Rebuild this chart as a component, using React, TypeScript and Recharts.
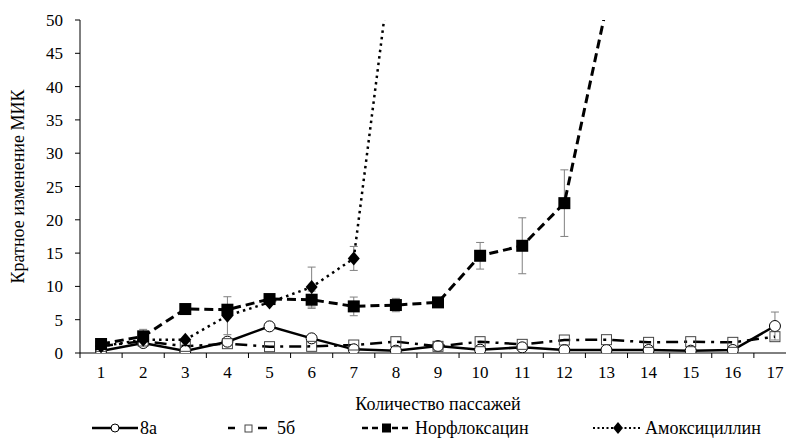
import React from 'react';
import { LineChart, Line, XAxis, YAxis, ErrorBar, Legend } from 'recharts';

// passage numbers on the x axis
const passages = [1, 2, 3, 4, 5, 6, 7, 8, 9, 10, 11, 12, 13, 14, 15, 16, 17];

// fold change of MIC per compound
const values8a = [0.3, 1.5, 0.3, 1.7, 4.0, 2.2, 0.55, 0.35, 1.05, 0.5, 0.85, 0.45, 0.45, 0.45, 0.35, 0.45, 4.05];
const values5b = [1.0, 1.8, 1.0, 1.4, 0.95, 1.0, 1.2, 1.7, 1.0, 1.7, 1.3, 1.95, 2.0, 1.6, 1.7, 1.6, 2.45];
const valuesNorf = [1.35, 2.5, 6.6, 6.5, 8.1, 8.0, 7.0, 7.2, 7.6, 14.6, 16.1, 22.5, 52, null, null, null, null];
const valuesAmox = [1.0, 2.0, 2.0, 5.6, 7.6, 9.9, 14.2, 64, null, null, null, null, null, null, null, null, null];

// standard deviations (only where bars are drawn)
const err8a = [null, null, null, null, null, null, null, null, null, null, null, null, null, null, null, null, 2.1];
const errNorf = [null, 1.05, null, null, null, 1.3, 1.4, 1.0, null, 2.0, 4.2, 5.0, null, null, null, null, null];
const errAmox = [null, null, null, 2.85, null, 3.0, 1.8, null, null, null, null, null, null, null, null, null, null];

const yTicks = [0, 5, 10, 15, 20, 25, 30, 35, 40, 45, 50];
const seriesNames = ['8а', '5б', 'Норфлоксацин', 'Амоксициллин'];

const FONT = 'Liberation Serif';
const CHART_W = 791;
const CHART_H = 435;
const Y_AXIS_W = 72;
const MARGIN = { top: 12, right: 3, bottom: 3, left: 0 };
const PLOT_W = CHART_W - MARGIN.left - MARGIN.right - Y_AXIS_W;
const HALF_BAND = PLOT_W / passages.length / 2;
const Y_MAX = 50;

const data = passages.map((p, i) => ({
  passage: p,
  a8: values8a[i],
  b5: values5b[i],
  norf: valuesNorf[i],
  amox: valuesAmox[i],
  e8a: err8a[i],
  eNorf: errNorf[i],
  eAmox: errAmox[i],
}));

const hidden = (p: any) => p.cx == null || p.cy == null || p.value == null || p.value > Y_MAX;

const CircleDot = (p: any) =>
  hidden(p) ? <g key={`c${p.index}`} /> : (
    <circle key={`c${p.index}`} cx={p.cx} cy={p.cy} r={5.5} fill="#fff" stroke="#000" strokeWidth={1} />
  );

const OpenSquareDot = (p: any) =>
  hidden(p) ? <g key={`s${p.index}`} /> : (
    <rect key={`s${p.index}`} x={p.cx - 5} y={p.cy - 5} width={10} height={10} fill="none" stroke="#444" strokeWidth={1} />
  );

const SquareDot = (p: any) =>
  hidden(p) ? <g key={`q${p.index}`} /> : (
    <rect key={`q${p.index}`} x={p.cx - 6} y={p.cy - 6} width={12} height={12} fill="#000" />
  );

const DiamondDot = (p: any) =>
  hidden(p) ? <g key={`m${p.index}`} /> : (
    <path key={`m${p.index}`} d={`M${p.cx},${p.cy - 7} L${p.cx + 6},${p.cy} L${p.cx},${p.cy + 7} L${p.cx - 6},${p.cy} Z`} fill="#000" />
  );

const PassageTick = (props: any) => {
  const { x, y, payload, index } = props;
  return (
    <g>
      <line x1={x - HALF_BAND} y1={y} x2={x - HALF_BAND} y2={y + 5} stroke="#000" />
      {index === passages.length - 1 && (
        <line x1={x + HALF_BAND} y1={y} x2={x + HALF_BAND} y2={y + 5} stroke="#000" />
      )}
      <text x={x} y={y + 25} textAnchor="middle" fontSize={17} fill="#000" fontFamily={FONT}>
        {payload.value}
      </text>
    </g>
  );
};

const legendIcons = [
  <svg width={46} height={24} key="i0">
    <line x1={0} y1={12} x2={46} y2={12} stroke="#000" strokeWidth={2.5} />
    <circle cx={23} cy={12} r={4} fill="#fff" stroke="#000" strokeWidth={1} />
  </svg>,
  <svg width={40} height={24} key="i1">
    <line x1={0} y1={12} x2={7} y2={12} stroke="#000" strokeWidth={2.5} />
    <rect x={17} y={9} width={7} height={7} fill="none" stroke="#444" strokeWidth={1} />
    <line x1={30} y1={12} x2={39} y2={12} stroke="#000" strokeWidth={2.5} />
  </svg>,
  <svg width={50} height={24} key="i2">
    <line x1={0} y1={12} x2={50} y2={12} stroke="#000" strokeWidth={2.5} strokeDasharray="6 4" />
    <rect x={20} y={7.5} width={9} height={9} fill="#000" />
  </svg>,
  <svg width={49} height={24} key="i3">
    <line x1={0} y1={12} x2={49} y2={12} stroke="#000" strokeWidth={2} strokeDasharray="2 2.5" />
    <path d="M25,6 L30,12 L25,18 L20,12 Z" fill="#000" />
  </svg>,
];
const legendLefts = [84, 220, 354, 585];
const legendGaps = [2, 9, 3, 3];

const renderLegend = () => (
  <div style={{ position: 'relative', height: 24, fontFamily: FONT, fontSize: 18, color: '#000' }}>
    {seriesNames.map((name, i) => (
      <div key={name} style={{ position: 'absolute', left: legendLefts[i], top: 0, height: 24, display: 'flex', alignItems: 'center' }}>
        {legendIcons[i]}
        <span style={{ marginLeft: legendGaps[i], whiteSpace: 'nowrap' }}>{name}</span>
      </div>
    ))}
  </div>
);

const YTitle = (props: any) => {
  const vb = props.viewBox || { x: 0, y: 0, width: 0, height: 0 };
  const cx = 10;
  const cy = vb.y + vb.height / 2;
  return (
    <text x={cx} y={cy} transform={`rotate(-90 ${cx} ${cy})`} textAnchor="middle" dominantBaseline="central" fontSize={18} fill="#000" fontFamily={FONT}>
      Кратное изменение МИК
    </text>
  );
};

export default function App() {
  return (
    <div style={{ width: 786, height: CHART_H, overflow: 'hidden', fontFamily: FONT }}>
      <LineChart width={CHART_W} height={CHART_H} data={data} margin={MARGIN}>
        <XAxis
          dataKey="passage"
          type="number"
          domain={[0.5, 17.5]}
          ticks={passages}
          interval={0}
          height={63}
          tickSize={0}
          tickMargin={0}
          tickLine={false}
          axisLine={{ stroke: '#000' }}
          tick={<PassageTick />}
          label={{ value: 'Количество пассажей', position: 'insideBottom', offset: 6, fontSize: 18, fill: '#000', fontFamily: FONT }}
        />
        <YAxis
          width={Y_AXIS_W}
          domain={[0, Y_MAX]}
          ticks={yTicks}
          allowDataOverflow
          interval={0}
          tickSize={5}
          tickMargin={12}
          axisLine={{ stroke: '#000' }}
          tickLine={{ stroke: '#000' }}
          tick={{ fontSize: 17, fill: '#000', fontFamily: FONT }}
          label={{ content: <YTitle /> }}
        />
        <Legend verticalAlign="bottom" content={renderLegend} wrapperStyle={{ left: 0, bottom: 3, width: 786, height: 24 }} />
        <Line dataKey="a8" name={seriesNames[0]} stroke="#000" strokeWidth={2.5} dot={CircleDot} activeDot={false} isAnimationActive={false}>
          <ErrorBar dataKey="e8a" width={4} stroke="#808080" strokeWidth={1} direction="y" />
        </Line>
        <Line dataKey="b5" name={seriesNames[1]} stroke="#000" strokeWidth={2.5} strokeDasharray="12 6 3 6" dot={OpenSquareDot} activeDot={false} isAnimationActive={false} />
        <Line dataKey="norf" name={seriesNames[2]} stroke="#000" strokeWidth={3} strokeDasharray="9 5" dot={SquareDot} activeDot={false} isAnimationActive={false}>
          <ErrorBar dataKey="eNorf" width={4} stroke="#808080" strokeWidth={1} direction="y" />
        </Line>
        <Line dataKey="amox" name={seriesNames[3]} stroke="#000" strokeWidth={2.5} strokeDasharray="2.5 4" dot={DiamondDot} activeDot={false} isAnimationActive={false}>
          <ErrorBar dataKey="eAmox" width={4} stroke="#808080" strokeWidth={1} direction="y" />
        </Line>
      </LineChart>
    </div>
  );
}
